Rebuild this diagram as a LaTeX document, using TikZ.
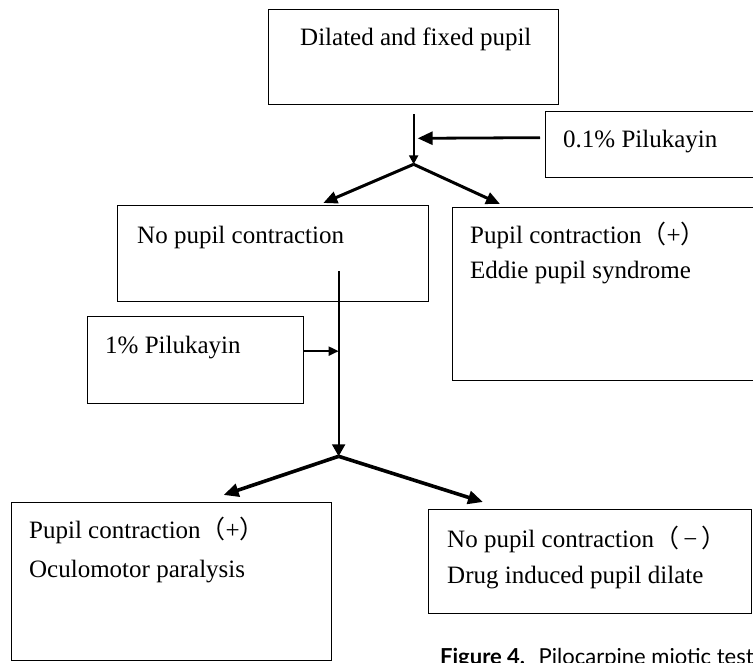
\documentclass[tikz,border=0pt]{standalone}
\usepackage{fontspec}
\setmainfont{Liberation Serif}
\newfontfamily\cjk{Noto Sans CJK SC}
\newfontfamily\capfont{Lato}
\usetikzlibrary{arrows.meta,calc}
\begin{document}
\begin{tikzpicture}[x=1pt,y=-1pt,
  box/.style={draw, line width=1.3pt, anchor=north west, inner sep=0pt},
  lbl/.style={anchor=base west, inner sep=0pt, font=\fontsize{25}{30}\selectfont},
  stem/.style={line width=2.2pt},
  fork/.style={line width=3pt, -{Triangle[length=14pt,width=12pt]}},
  forkb/.style={line width=3.6pt, -{Triangle[length=15pt,width=13pt]}},
]
\useasboundingbox (0,0) rectangle (753,662);
\fill[white] (0,0) rectangle (753,662);

% boxes
\node[box, minimum width=290pt, minimum height=95pt]  (A) at (268,9)   {};
\node[box, minimum width=230pt, minimum height=66pt]  (B) at (545,111) {};
\node[box, minimum width=311pt, minimum height=96pt]  (C) at (117,205) {};
\node[box, minimum width=320pt, minimum height=173pt] (D) at (452,207) {};
\node[box, minimum width=216pt, minimum height=87pt]  (E) at (87,316)  {};
\node[box, minimum width=320pt, minimum height=158pt] (F) at (11,502)  {};
\node[box, minimum width=323pt, minimum height=104pt] (G) at (428,509) {};

% texts
\node[lbl] (At)  at ($(A.north west)+(32,36)$) {Dilated and fixed pupil};
\node[lbl] (Bt)  at ($(B.north west)+(18,36)$) {0.1\% Pilukayin};
\node[lbl] (Ct)  at ($(C.north west)+(20,38)$) {No pupil contraction};
\node[lbl] (Dt1) at ($(D.north west)+(18,36)$) {Pupil contraction{\cjk （}+{\cjk ）}};
\node[lbl] (Dt2) at ($(D.north west)+(18,71)$) {Eddie pupil syndrome};
\node[lbl] (Et)  at ($(E.north west)+(18,37)$) {1\% Pilukayin};
\node[lbl] (Ft1) at ($(F.north west)+(18,36)$) {Pupil contraction{\cjk （}+{\cjk ）}};
\node[lbl] (Ft2) at ($(F.north west)+(18,75)$) {Oculomotor paralysis};
\node[lbl] (Gt1) at ($(G.north west)+(19,38)$) {No pupil contraction{\cjk （}\,−\,{\cjk ）}};
\node[lbl] (Gt2) at ($(G.north west)+(19,74)$) {Drug induced pupil dilate};
\node[anchor=base west, inner sep=0pt, font=\capfont\fontsize{22}{26}\selectfont] (cap)
  at (440,664) {\textbf{Figure 4.}\hspace{6pt} Pilocarpine miotic test};

% junctions
\coordinate (j1) at ($(A.south)+(0,59)$);
\coordinate (j2) at ($(j1)+(-75,292)$);
\coordinate (s1) at ($(A.south)+(0,9)$);
\coordinate (s2) at ($(j2)+(0,-185)$);

% top part
\draw[stem, -{Triangle[length=9pt,width=9pt]}] (s1) -- (j1);
\draw[line width=2.8pt, -{Triangle[length=15pt,width=13pt]}] ($(B.west)+(-5,-7)$) -- ($(s1)+(4,24)$);
\draw[fork] (j1) -- ($(C.north east)+(-106,-2)$);
\draw[fork] (j1) -- ($(D.north west)+(48,-3)$);

% middle part
\draw[stem, -{Triangle[length=12pt,width=13pt]}] (s2) -- (j2);
\draw[line width=2pt, -{Triangle[length=10pt,width=9pt]}] ($(E.east)+(0,-9)$) -- ($(s2 |- E.east)+(0,-9)$);

% bottom part
\draw[forkb] (j2) -- ($(F.north)+(52,-7)$);
\draw[forkb] (j2) -- ($(G.north west)+(55,-7)$);
\end{tikzpicture}
\end{document}
